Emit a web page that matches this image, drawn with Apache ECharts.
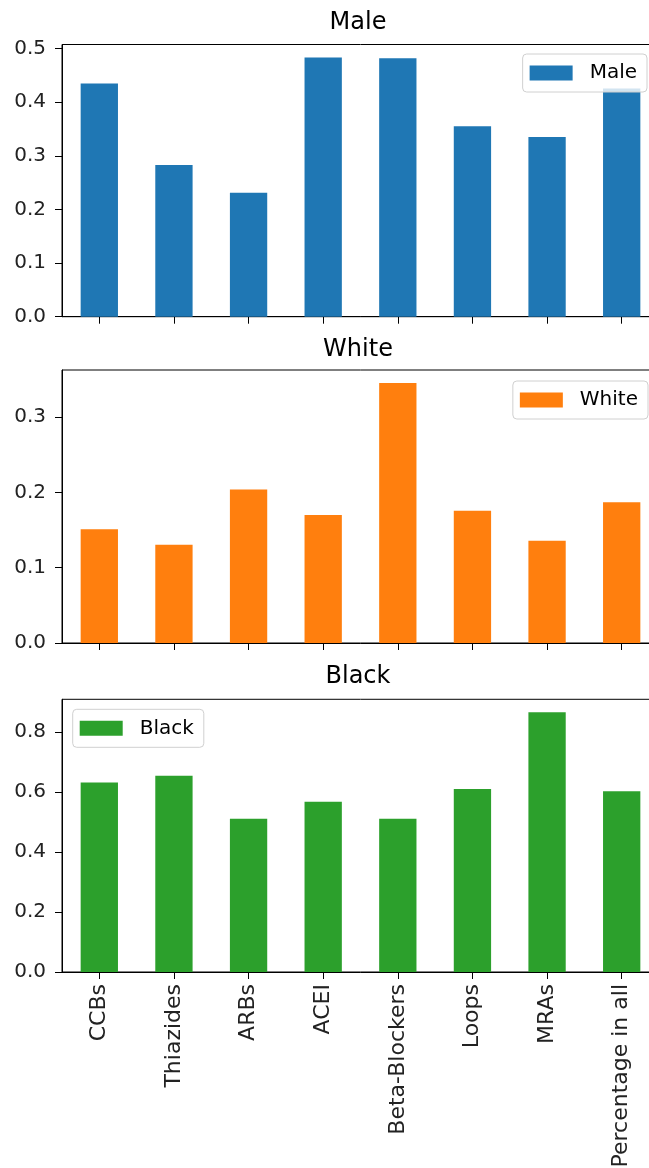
<!DOCTYPE html>
<html>
<head>
<meta charset="utf-8">
<script src="https://cdn.jsdelivr.net/npm/echarts@6/dist/echarts.min.js"></script>
<style>
  html, body { margin: 0; padding: 0; background: #fff; overflow: hidden; }
  /* canvas is a little wider than the page so the right spine falls just off the edge */
  #chart { width: 660px; height: 1168px; }
</style>
</head>
<body>
<div id="chart"></div>
<script>
// Drug classes along the shared x axis
const categories = ['CCBs', 'Thiazides', 'ARBs', 'ACEI', 'Beta-Blockers', 'Loops', 'MRAs', 'Percentage in all'];

// Share of each group per drug class
const maleValues  = [0.435, 0.283, 0.231, 0.4835, 0.482, 0.355, 0.335, 0.4255];
const whiteValues = [0.151, 0.1305, 0.204, 0.170, 0.3455, 0.1756, 0.136, 0.187];
const blackValues = [0.632, 0.654, 0.511, 0.568, 0.511, 0.610, 0.866, 0.603];

// Tick values of each panel's y axis
const maleTicks  = [0, 0.1, 0.2, 0.3, 0.4, 0.5];
const whiteTicks = [0, 0.1, 0.2, 0.3];
const blackTicks = [0, 0.2, 0.4, 0.6, 0.8];

const panelNames = ['Male', 'White', 'Black'];
const panelValues = [maleValues, whiteValues, blackValues];
const panelTicks = [maleTicks, whiteTicks, blackTicks];
const colors = ['#1f77b4', '#ff7f0e', '#2ca02c'];

const FONT = 'DejaVu Sans';
const grids = [
  { left: 62, right: 1, top: 44.5, height: 272.2 },
  { left: 62, right: 1, top: 370, height: 273 },
  { left: 62, right: 1, top: 699.3, height: 272.7 }
];
const titleTops = [6, 333, 660];
// headroom above the tallest bar, as in the usual 5% margin
const maxOf = arr => Math.max.apply(null, arr) * 1.05;

const option = {
  animation: false,
  backgroundColor: '#ffffff',
  title: panelNames.map((name, i) => ({
    text: name,
    left: 353,
    top: titleTops[i],
    textAlign: 'center',
    textStyle: { fontFamily: FONT, fontSize: 24, fontWeight: 'normal', color: '#000' }
  })),
  legend: [
    { data: ['Male'],  right: 13, top: 54 },
    { data: ['White'], right: 12, top: 381 },
    { data: ['Black'], left: 72.7, top: 709.3 }
  ].map(l => Object.assign({
    orient: 'vertical',
    icon: 'rect',
    itemWidth: 43,
    itemHeight: 15,
    itemGap: 18,
    padding: [9, 10, 9, 7],
    backgroundColor: 'rgba(255,255,255,0.8)',
    borderColor: '#d0d0d0',
    borderWidth: 1,
    borderRadius: 4,
    textStyle: { fontFamily: FONT, fontSize: 20, color: '#000', padding: [0, 0, 0, 12] }
  }, l)),
  grid: grids.map(g => Object.assign({
    show: true,
    outerBoundsMode: 'none',
    containLabel: false,
    borderColor: '#000',
    borderWidth: 1,
    backgroundColor: 'transparent'
  }, g)),
  xAxis: panelNames.map((name, i) => ({
    type: 'category',
    gridIndex: i,
    data: categories,
    boundaryGap: true,
    axisLine: { show: true, lineStyle: { color: '#000', width: 1 } },
    axisTick: { show: true, alignWithLabel: true, length: 7, lineStyle: { color: '#000' } },
    axisLabel: {
      show: i === 2,
      rotate: 90,
      interval: 0,
      margin: 12,
      fontFamily: FONT,
      fontSize: 22,
      color: '#222'
    },
    splitLine: { show: false }
  })),
  yAxis: panelNames.map((name, i) => ({
    type: 'value',
    gridIndex: i,
    min: 0,
    max: maxOf(panelValues[i]),
    axisLine: { show: true, lineStyle: { color: '#000', width: 1 } },
    axisTick: { show: true, length: 7, customValues: panelTicks[i], lineStyle: { color: '#000' } },
    axisLabel: {
      customValues: panelTicks[i],
      formatter: v => v.toFixed(1),
      margin: 16,
      fontFamily: FONT,
      fontSize: 20,
      color: '#222'
    },
    splitLine: { show: false }
  })),
  series: panelNames.map((name, i) => ({
    name: name,
    type: 'bar',
    xAxisIndex: i,
    yAxisIndex: i,
    data: panelValues[i],
    barWidth: '50%',
    itemStyle: { color: colors[i] }
  }))
};

const chart = echarts.init(document.getElementById('chart'), null, { renderer: 'canvas' });
chart.setOption(option);
</script>
</body>
</html>
